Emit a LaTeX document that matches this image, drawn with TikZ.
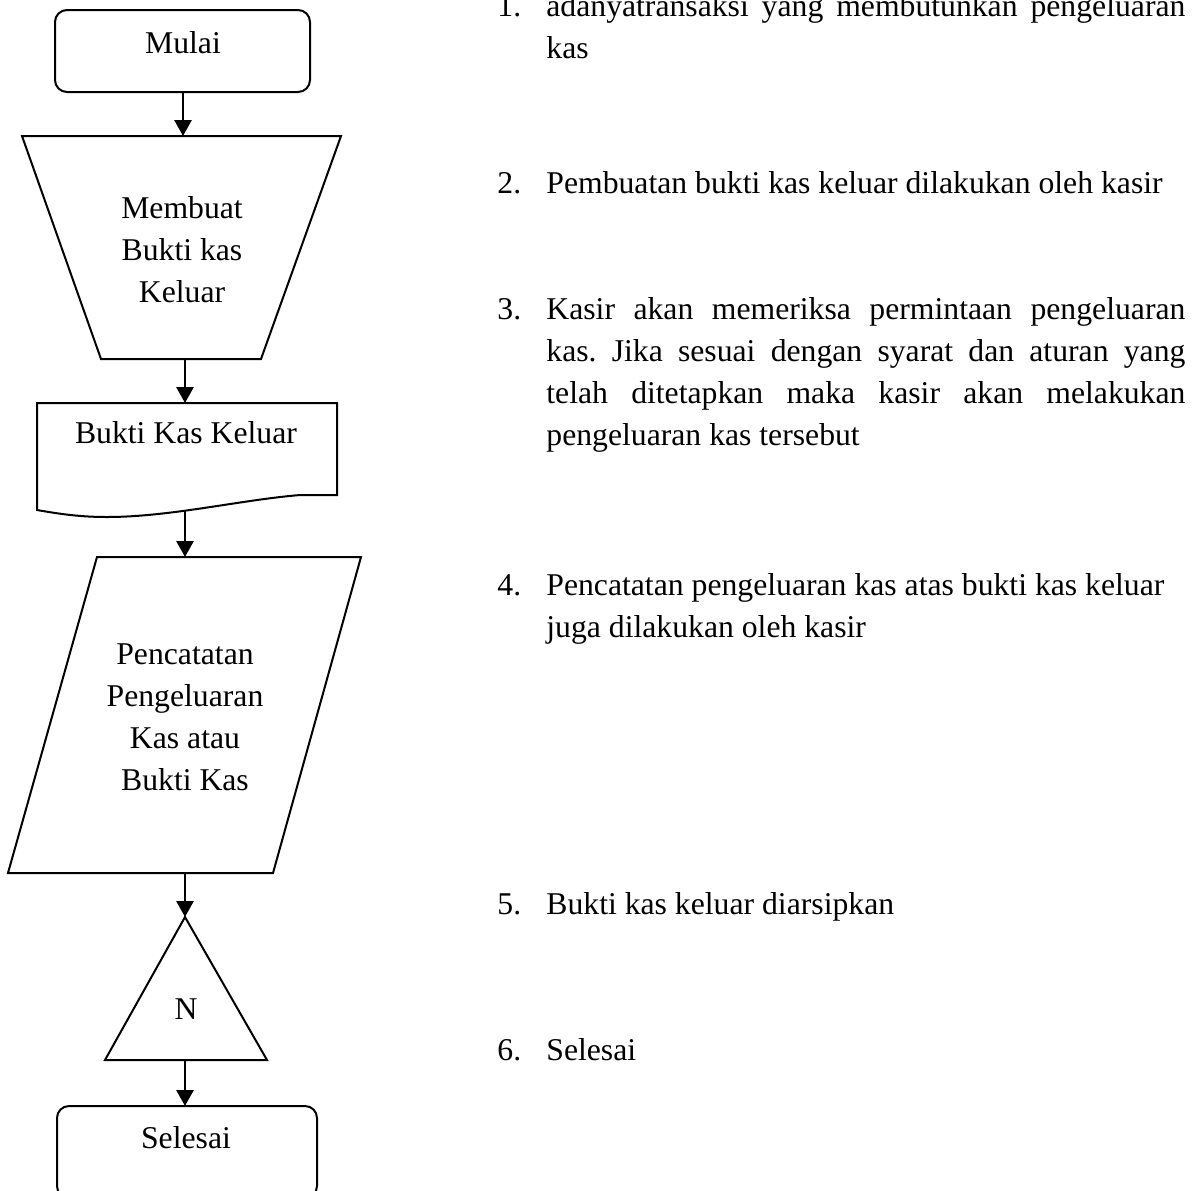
\documentclass[tikz,border=0pt]{standalone}
\usepackage{fontspec}
\setmainfont{Liberation Serif}
\usetikzlibrary{arrows.meta}
\frenchspacing
\begin{document}
\begin{tikzpicture}[x=0.5pt,y=-0.5pt,
  outline/.style={line width=1pt, line join=miter},
  flow/.style={line width=1.4pt, -{Triangle[length=8pt,width=8.5pt]}},
  lbl/.style={font=\fontsize{15.85}{21}\selectfont, inner sep=0pt},
]
\path[use as bounding box] (0,0) rectangle (1198,1190);
\clip (0,0) rectangle (1198,1190);

% ---- flowchart column ----
% start terminal
\draw[outline, rounded corners=6pt] (55,10) rectangle (310,92);
\node[lbl, anchor=base] (mulai) at (183,53) {Mulai};
\coordinate (mulai-s) at (183,92);

% manual operation
\draw[outline] (22,136) -- (341,136) -- (261,359) -- (101,359) -- cycle;
\node[lbl, anchor=base] (membuat) at (182,218)
  {\parbox[t]{160pt}{\centering Membuat\\Bukti kas\\Keluar}};
\coordinate (trap-n) at (183,136);
\coordinate (trap-s) at (185,359);

% document
\draw[outline] (37,403) -- (337,403) -- (337,495) -- (300,495)
  .. controls (240,500) and (170,517) .. (107,517)
  .. controls (80,517) and (60,514) .. (37,510) -- cycle;
\node[lbl, anchor=base] (bukti) at (186,443) {Bukti Kas Keluar};
\coordinate (doc-n) at (185,403);
\coordinate (doc-s) at (185,510);

% input / output
\draw[outline] (97,557) -- (361,557) -- (273,873) -- (8,873) -- cycle;
\node[lbl, anchor=base] (catat) at (185,664)
  {\parbox[t]{160pt}{\centering Pencatatan\\Pengeluaran\\Kas atau\\Bukti Kas}};
\coordinate (para-n) at (185,557);
\coordinate (para-s) at (185,873);

% offline storage
\draw[outline] (185,917) -- (267,1060) -- (105,1060) -- cycle;
\node[lbl, anchor=base] (arsip) at (186,1019) {N};
\coordinate (tri-n) at (185,917);
\coordinate (tri-s) at (185,1060);

% end terminal
\draw[outline, rounded corners=6pt] (57,1106) rectangle (317,1198);
\node[lbl, anchor=base] (selesai) at (186,1148) {Selesai};
\coordinate (selesai-n) at (185,1106);

% connectors
\draw[flow] (mulai-s) -- (trap-n);
\draw[flow] (trap-s) -- (doc-n);
\draw[flow] (doc-s) -- (para-n);
\draw[flow] (para-s) -- (tri-n);
\draw[flow] (tri-s) -- (selesai-n);

% ---- numbered description ----
\newcommand{\stepline}[1]{\makebox[319.5pt][s]{#1}}
\node[lbl, anchor=base west] (n1) at (497,16) {1.};
\node[lbl, anchor=base west] (t1) at (546,16)
  {\parbox[t]{319.5pt}{\stepline{adanyatransaksi yang membutunkan pengeluaran}\\kas}};

\node[lbl, anchor=base west] (n2) at (497,193) {2.};
\node[lbl, anchor=base west] (t2) at (546,193)
  {Pembuatan bukti kas keluar dilakukan oleh kasir};

\node[lbl, anchor=base west] (n3) at (497,319) {3.};
\node[lbl, anchor=base west] (t3) at (546,319)
  {\parbox[t]{319.5pt}{\stepline{Kasir akan memeriksa permintaan pengeluaran}\\
   \stepline{kas. Jika sesuai dengan syarat dan aturan yang}\\
   \stepline{telah ditetapkan maka kasir akan melakukan}\\
   pengeluaran kas tersebut}};

\node[lbl, anchor=base west] (n4) at (497,595) {4.};
\node[lbl, anchor=base west] (t4) at (546,595)
  {\parbox[t]{319.5pt}{Pencatatan pengeluaran kas atas bukti kas keluar\\
   juga dilakukan oleh kasir}};

\node[lbl, anchor=base west] (n5) at (497,914) {5.};
\node[lbl, anchor=base west] (t5) at (546,914) {Bukti kas keluar diarsipkan};

\node[lbl, anchor=base west] (n6) at (497,1060) {6.};
\node[lbl, anchor=base west] (t6) at (546,1060) {Selesai};
\end{tikzpicture}
\end{document}
